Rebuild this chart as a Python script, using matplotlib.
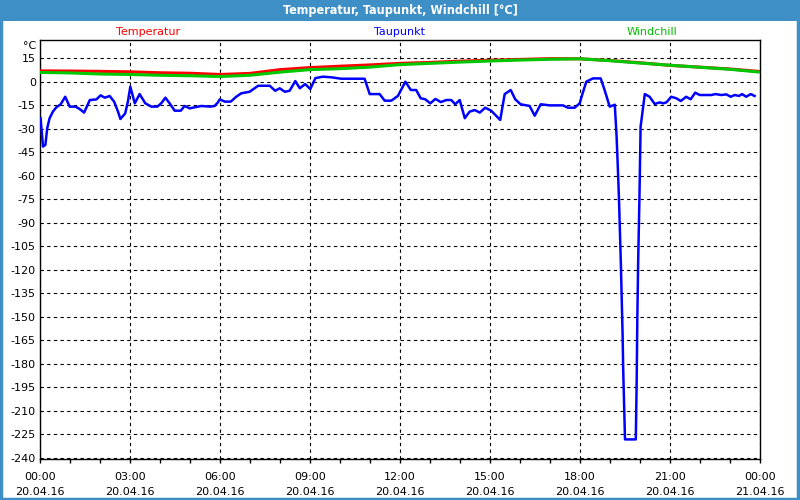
import matplotlib
matplotlib.use('Agg')
import matplotlib.pyplot as plt
from matplotlib.patches import Rectangle

# hourly values 00:00 .. 24:00
hours = list(range(25))
temperatur = [6.8, 6.7, 6.5, 6.2, 5.6, 5.3, 4.5, 5.2, 7.6, 8.9, 9.8, 10.6, 11.6,
              12.2, 13.0, 13.6, 14.1, 14.6, 14.5, 13.4, 12.0, 10.3, 9.2, 8.0, 6.4]
windchill = [5.8, 5.5, 4.8, 4.5, 4.0, 3.7, 3.2, 4.0, 6.0, 7.6, 8.2, 9.2, 10.8,
             11.6, 12.4, 13.1, 13.7, 14.2, 14.5, 13.3, 11.8, 10.4, 9.1, 7.8, 6.0]

# dew point, irregular samples (hours since 00:00)
tau_t = [0.02, 0.10, 0.18, 0.24, 0.32, 0.43, 0.54, 0.69, 0.84, 0.99, 1.18, 1.32, 1.47,
         1.66, 1.88, 2.02, 2.16, 2.32, 2.47, 2.60, 2.68, 2.84, 2.93, 3.01, 3.16, 3.32,
         3.51, 3.71, 3.91, 4.04, 4.18, 4.32, 4.49, 4.69, 4.82, 4.99, 5.16, 5.38, 5.66,
         5.82, 5.93, 5.99, 6.16, 6.36, 6.54, 6.71, 6.99, 7.27, 7.66, 7.84, 7.99, 8.16,
         8.32, 8.51, 8.66, 8.84, 9.01, 9.18, 9.43, 9.71, 10.04, 10.82, 10.99, 11.32,
         11.49, 11.71, 11.93, 12.18, 12.36, 12.54, 12.69, 12.84, 13.01, 13.18, 13.36,
         13.54, 13.71, 13.84, 13.99, 14.16, 14.32, 14.49, 14.66, 14.84, 15.04, 15.34,
         15.49, 15.69, 15.84, 16.02, 16.32, 16.49, 16.69, 16.99, 17.43, 17.60, 17.82,
         17.99, 18.07, 18.21, 18.43, 18.69, 18.82, 18.99, 19.16, 19.22, 19.26, 19.30,
         19.33, 19.36, 19.39, 19.42, 19.44, 19.47, 19.50, 19.86, 19.89, 19.91, 19.94,
         19.98, 20.02, 20.16, 20.32, 20.49, 20.66, 20.77, 20.88, 21.04, 21.21, 21.36,
         21.54, 21.69, 21.84, 21.99, 22.38, 22.51, 22.71, 22.88, 23.02, 23.16, 23.30,
         23.40, 23.54, 23.69, 23.82]
taupunkt = [-23.4, -41.5, -40.4, -29.8, -23.4, -19.2, -16.5, -14.5, -9.7, -16, -16, -17.5,
            -19.8, -11.8, -11.4, -8.8, -10.3, -9.2, -12.8, -19.2, -23.9, -20.3, -12.8,
            -3.3, -13.9, -8, -13.9, -16, -16, -13.9, -10.3, -13.9, -18.6, -18.6, -15.6,
            -17.1, -16.4, -15.6, -16, -15.6, -13.3, -11.4, -12.8, -12.8, -9.7, -7.5,
            -6.5, -2.7, -2.7, -5.9, -4.3, -6.5, -5.9, 0.3, -4.3, -1.6, -4.8, 2.2, 3.1,
            2.7, 1.8, 1.8, -8, -8, -12.2, -12.2, -9.2, -0.1, -5.4, -5.4, -10.7, -11.3,
            -13.9, -11.1, -13.1, -11.8, -11.8, -14.5, -11.8, -23.4, -19.2, -18.2, -19.8,
            -16.7, -18.6, -24.5, -8, -5.4, -11.3, -14.5, -15.6, -21.8, -14.5, -15.2,
            -15.2, -16.7, -16.7, -13.9, -8.6, -0.1, 2, 2, -5.4, -16, -14.8, -35.2,
            -54.3, -75.5, -94.6, -114.8, -137.5, -161.5, -183.8, -206, -228.3, -228.3,
            -190, -152, -113.7, -75.5, -28.8, -8, -9.7, -14.3, -13.3, -13.9, -13.3,
            -9.7, -10.7, -12.4, -9.7, -11.3, -7.1, -8.6, -8.6, -8, -8.6, -8.2, -9.7,
            -8.6, -9.2, -8, -9.7, -8, -9.2]

x_ticks = [0, 3, 6, 9, 12, 15, 18, 21, 24]
x_labels = ['00:00\n20.04.16', '03:00\n20.04.16', '06:00\n20.04.16', '09:00\n20.04.16',
            '12:00\n20.04.16', '15:00\n20.04.16', '18:00\n20.04.16', '21:00\n20.04.16',
            '00:00\n21.04.16']
y_ticks = list(range(15, -241, -15))

frame_blue = '#3d8fc6'

fig = plt.figure(figsize=(8, 5), dpi=100)
fig.patch.set_facecolor('white')

# title bar and thin frame around the whole picture
fig.patches.append(Rectangle((0, 1 - 21 / 500), 1, 21 / 500, transform=fig.transFigure,
                             facecolor=frame_blue, edgecolor='none', zorder=0))
fig.patches.append(Rectangle((0.0015, 0.003), 0.996, 0.99, transform=fig.transFigure,
                             facecolor='none', edgecolor=frame_blue, lw=2.5, zorder=0))
fig.text(0.5, 1 - 10.5 / 500, 'Temperatur, Taupunkt, Windchill [°C]', color='white',
         fontsize=9, fontweight='bold', fontstretch='condensed',
         family='DejaVu Sans', ha='center', va='center')

ax = fig.add_axes([40 / 800, 1 - 459 / 500, 720 / 800, 419 / 500])

ax.plot(hours, temperatur, color='#ff0000', lw=2.2, zorder=3)
ax.plot(hours, windchill, color='#00c800', lw=2.2, zorder=4)
ax.plot(tau_t, taupunkt, color='#0000ff', lw=1.8, zorder=5)

ax.set_xlim(0, 24)
ax.set_ylim(-240.8, 26.5)
ax.set_xticks(x_ticks)
ax.set_xticklabels(x_labels, fontsize=8, linespacing=1.7)
ax.set_xticks(hours, minor=True)
ax.set_yticks(y_ticks)
ax.set_yticklabels([str(v) for v in y_ticks], fontsize=8)
ax.tick_params(axis='x', which='both', direction='out', length=3, width=1, pad=6)
ax.tick_params(axis='y', length=0, pad=3)
ax.grid(True, which='major', color='black', linestyle=(0, (3, 3)), linewidth=0.8)
for s in ax.spines.values():
    s.set_linewidth(1)
    s.set_color('black')

fig.text(30 / 800, 1 - 46 / 500, '°C', fontsize=8, ha='center', va='center')
fig.text(148 / 800, 1 - 32 / 500, 'Temperatur', color='#ff0000', fontsize=8, ha='center', va='center')
fig.text(399 / 800, 1 - 32 / 500, 'Taupunkt', color='#0000ff', fontsize=8, ha='center', va='center')
fig.text(652 / 800, 1 - 32 / 500, 'Windchill', color='#00c000', fontsize=8, ha='center', va='center')

fig.savefig('out.png', dpi=100)
